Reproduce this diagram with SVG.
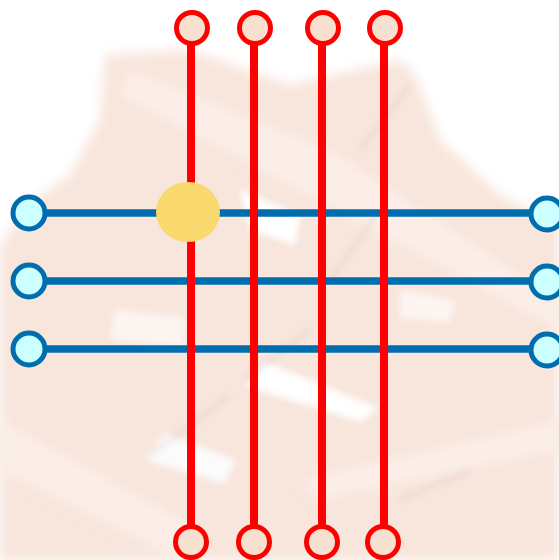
<svg xmlns="http://www.w3.org/2000/svg" width="559" height="560" viewBox="0 0 559 560">
<defs>
<style>
.hline{stroke:#006eae;stroke-width:7.5;fill:none}
.vline{stroke:#ff0000;stroke-width:8;fill:none}
.hnode{fill:#ccffff;stroke:#006eae;stroke-width:5}
.vnode{fill:#f8e0d0;stroke:#ff0000;stroke-width:5}
.touch{fill:#f9d96e}
</style>
<filter id="soft" x="-10%" y="-10%" width="120%" height="120%"><feGaussianBlur stdDeviation="6"/></filter>
<filter id="soft2" x="-20%" y="-20%" width="140%" height="140%"><feGaussianBlur stdDeviation="3"/></filter>
</defs>
<rect width="559" height="560" fill="#ffffff"/>
<g id="background">
<path d="M105,55 L190,50 L290,85 L400,60 L415,75 L440,140 L500,195 L559,225 L559,560 L0,560 L0,245 L35,200 L70,175 L100,120 Z" fill="#f8e5dc" filter="url(#soft)"/>
<path d="M130,70 L330,150 L559,300 L559,330 L300,190 L120,95 Z M0,420 L200,530 L180,560 L0,470 Z M300,480 L559,420 L559,450 L320,500 Z" fill="#fbeee8" filter="url(#soft)"/>
<path d="M240,190 L300,215 L295,245 L250,230 Z" fill="#ffffff" filter="url(#soft2)"/>
<path d="M265,362 L378,408 L362,422 L245,386 Z" fill="#ffffff" filter="url(#soft2)"/>
<path d="M165,433 L235,460 L225,484 L145,460 Z" fill="#fbfbfb" filter="url(#soft2)"/>
<path d="M115,310 L185,318 L183,348 L110,340 Z" fill="#fdf5f2" filter="url(#soft2)"/>
<path d="M400,290 L455,300 L450,322 L400,318 Z" fill="#fdf5f2" filter="url(#soft2)"/>
<path d="M245,380 L310,330 M150,455 L230,395 M330,280 L380,210 M360,150 L410,85 M400,500 L470,470" stroke="#cdb7b4" stroke-width="2.5" fill="none" opacity="0.45" filter="url(#soft2)"/>
</g>
<g id="connectors">
<line class="hline" x1="29" y1="213" x2="547" y2="213"/>
<line class="hline" x1="29" y1="281" x2="547" y2="281"/>
<line class="hline" x1="29" y1="349" x2="547" y2="349"/>
<line class="vline" x1="191" y1="28" x2="191" y2="542"/>
<line class="vline" x1="254" y1="28" x2="254" y2="542"/>
<line class="vline" x1="322" y1="28" x2="322" y2="542"/>
<line class="vline" x1="384" y1="28" x2="384" y2="542"/>
</g>
<g id="row-1-left"><circle class="hnode" cx="29" cy="213" r="16"/></g>
<g id="row-2-left"><circle class="hnode" cx="29" cy="281" r="16"/></g>
<g id="row-3-left"><circle class="hnode" cx="29" cy="349" r="16"/></g>
<g id="row-1-right"><circle class="hnode" cx="547" cy="214" r="16"/></g>
<g id="row-2-right"><circle class="hnode" cx="547" cy="282" r="16"/></g>
<g id="row-3-right"><circle class="hnode" cx="547" cy="350" r="16"/></g>
<g id="col-1-top"><circle class="vnode" cx="192" cy="28" r="15.5"/></g>
<g id="col-2-top"><circle class="vnode" cx="255" cy="28" r="15.5"/></g>
<g id="col-3-top"><circle class="vnode" cx="323" cy="28" r="15.5"/></g>
<g id="col-4-top"><circle class="vnode" cx="385" cy="28" r="15.5"/></g>
<g id="col-1-bottom"><circle class="vnode" cx="191" cy="542" r="15.5"/></g>
<g id="col-2-bottom"><circle class="vnode" cx="254" cy="542" r="15.5"/></g>
<g id="col-3-bottom"><circle class="vnode" cx="322" cy="542" r="15.5"/></g>
<g id="col-4-bottom"><circle class="vnode" cx="383" cy="542" r="15.5"/></g>
<g id="touch-point"><ellipse class="touch" cx="188" cy="212" rx="32" ry="30"/></g>
</svg>
